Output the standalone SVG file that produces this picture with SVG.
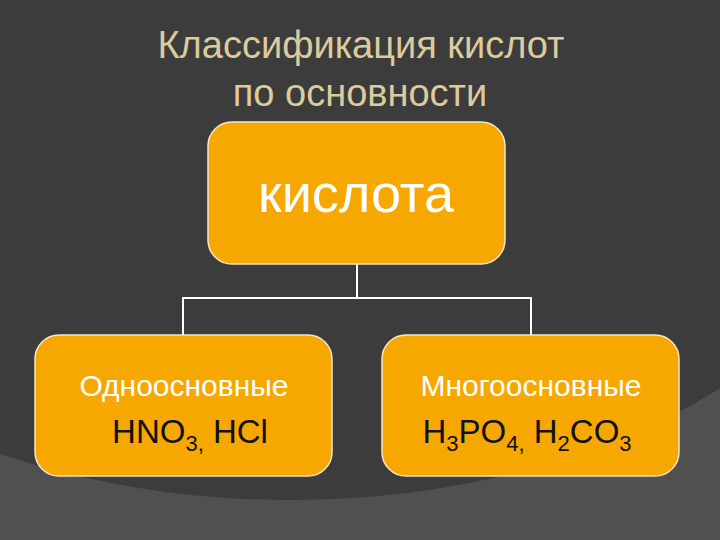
<svg xmlns="http://www.w3.org/2000/svg" width="720" height="540" viewBox="0 0 720 540">
<style>
.box{fill:#f7a800;stroke:#f4e6c8;stroke-width:1.5}
.conn{stroke:#ffffff;stroke-width:2;fill:none}
text{font-family:"Liberation Sans",Arial,sans-serif;text-anchor:middle}
.title{fill:#dccb9c;font-size:38px}
.lbl{fill:#ffffff;font-size:30px}
.f{fill:#111111;font-size:33px}
</style>
<rect width="720" height="540" fill="#505050"/>
<ellipse cx="290" cy="130" rx="600" ry="370" fill="#3c3c3c"/>
<text class="title" x="361" y="58">Классификация кислот</text>
<text class="title" x="360" y="106">по основности</text>
<g id="connectors">
<path class="conn" d="M357 264V298M183 335V298H531V335"/>
</g>
<g id="n-root">
<rect class="box" x="208" y="122" width="297" height="142" rx="24"/>
<text x="356" y="212" fill="#ffffff" font-size="54">кислота</text>
</g>
<g id="n-mono">
<rect class="box" x="35" y="335" width="297" height="141" rx="24"/>
<text class="lbl" x="184" y="396">Одноосновные</text>
<text class="f" x="190" y="443">HNO<tspan font-size="22" dy="8">3,</tspan><tspan dy="-8"> HCl</tspan></text>
</g>
<g id="n-poly">
<rect class="box" x="382" y="335" width="297" height="141" rx="24"/>
<text class="lbl" x="531" y="396">Многоосновные</text>
<text class="f" x="527" y="443">H<tspan font-size="22" dy="8">3</tspan><tspan dy="-8">PO</tspan><tspan font-size="22" dy="8">4,</tspan><tspan dy="-8"> H</tspan><tspan font-size="22" dy="8">2</tspan><tspan dy="-8">CO</tspan><tspan font-size="22" dy="8">3</tspan></text>
</g>
</svg>
